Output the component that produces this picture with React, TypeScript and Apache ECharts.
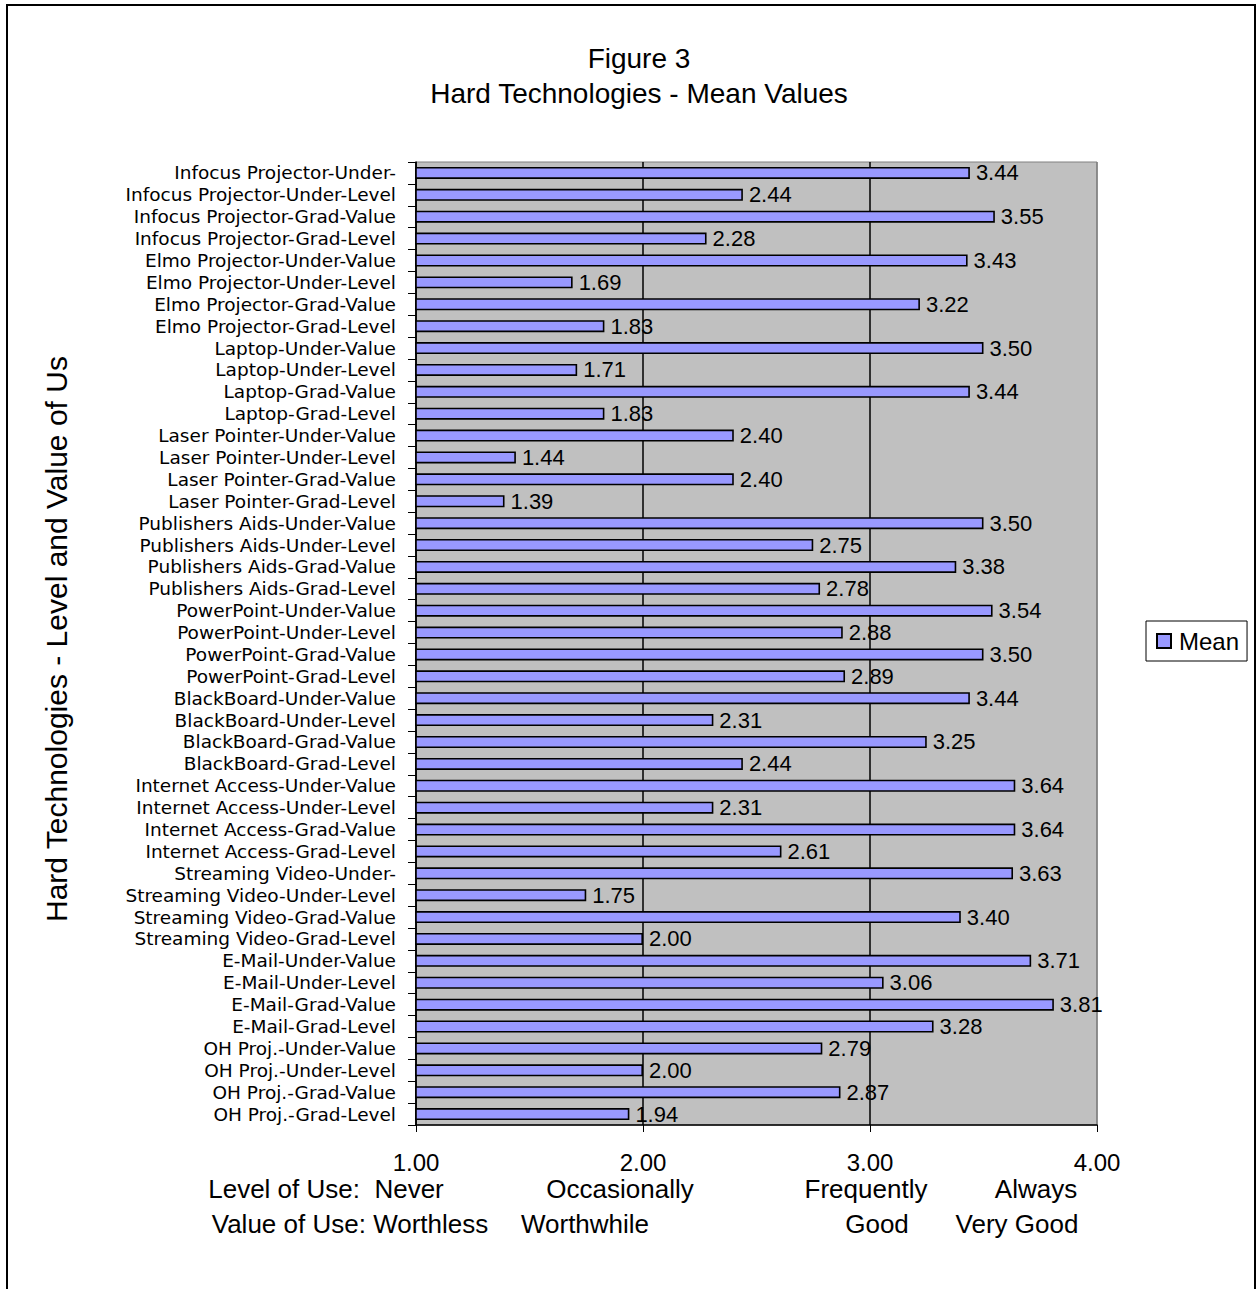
import React, { useEffect, useRef } from "react";
import * as echarts from "echarts";

const categories = [
  "Infocus Projector-Under-",
  "Infocus Projector-Under-Level",
  "Infocus Projector-Grad-Value",
  "Infocus Projector-Grad-Level",
  "Elmo Projector-Under-Value",
  "Elmo Projector-Under-Level",
  "Elmo Projector-Grad-Value",
  "Elmo Projector-Grad-Level",
  "Laptop-Under-Value",
  "Laptop-Under-Level",
  "Laptop-Grad-Value",
  "Laptop-Grad-Level",
  "Laser Pointer-Under-Value",
  "Laser Pointer-Under-Level",
  "Laser Pointer-Grad-Value",
  "Laser Pointer-Grad-Level",
  "Publishers Aids-Under-Value",
  "Publishers Aids-Under-Level",
  "Publishers Aids-Grad-Value",
  "Publishers Aids-Grad-Level",
  "PowerPoint-Under-Value",
  "PowerPoint-Under-Level",
  "PowerPoint-Grad-Value",
  "PowerPoint-Grad-Level",
  "BlackBoard-Under-Value",
  "BlackBoard-Under-Level",
  "BlackBoard-Grad-Value",
  "BlackBoard-Grad-Level",
  "Internet Access-Under-Value",
  "Internet Access-Under-Level",
  "Internet Access-Grad-Value",
  "Internet Access-Grad-Level",
  "Streaming Video-Under-",
  "Streaming Video-Under-Level",
  "Streaming Video-Grad-Value",
  "Streaming Video-Grad-Level",
  "E-Mail-Under-Value",
  "E-Mail-Under-Level",
  "E-Mail-Grad-Value",
  "E-Mail-Grad-Level",
  "OH Proj.-Under-Value",
  "OH Proj.-Under-Level",
  "OH Proj.-Grad-Value",
  "OH Proj.-Grad-Level",
];

const meanValues = [
  3.44, 2.44, 3.55, 2.28,
  3.43, 1.69, 3.22, 1.83,
  3.5, 1.71, 3.44, 1.83,
  2.4, 1.44, 2.4, 1.39,
  3.5, 2.75, 3.38, 2.78,
  3.54, 2.88, 3.5, 2.89,
  3.44, 2.31, 3.25, 2.44,
  3.64, 2.31, 3.64, 2.61,
  3.63, 1.75, 3.4, 2.0,
  3.71, 3.06, 3.81, 3.28,
  2.79, 2.0, 2.87, 1.94,
];

const seriesName = "Mean";
const titleLines = ["Figure 3", "Hard Technologies - Mean Values"];
const yAxisTitle = "Hard Technologies - Level and Value of Use";
const levelLabels = ["Level of Use:  Never", "Occasionally", "Frequently", "Always"];
const valueLabels = ["Value of Use: Worthless", "Worthwhile", "Good", "Very Good"];

const FONT = "'Liberation Sans', Arial, Helvetica, sans-serif";
const CAT_FONT = "'DejaVu Sans', 'Liberation Sans', Arial, sans-serif";
const levelCenters = [326, 620, 866, 1036];
const valueCenters = [350, 585, 877, 1017];

export default function App() {
  const ref = useRef<HTMLDivElement>(null);

  useEffect(() => {
    if (!ref.current) return;
    const chart = echarts.init(ref.current, null, { renderer: "svg" });

    const bottomTexts: any[] = [];
    levelLabels.forEach((t, i) => {
      bottomTexts.push({
        type: "text",
        x: levelCenters[i],
        y: 1189,
        style: {
          text: t,
          font: `26px ${FONT}`,
          fill: "#000",
          textAlign: "center",
          textVerticalAlign: "middle",
        },
      });
    });
    valueLabels.forEach((t, i) => {
      bottomTexts.push({
        type: "text",
        x: valueCenters[i],
        y: 1224,
        style: {
          text: t,
          font: `26px ${FONT}`,
          fill: "#000",
          textAlign: "center",
          textVerticalAlign: "middle",
        },
      });
    });

    chart.setOption({
      animation: false,
      backgroundColor: "#ffffff",
      textStyle: { fontFamily: FONT },
      title: {
        text: titleLines.join("\n"),
        left: 634,
        top: 36,
        textAlign: "center",
        textStyle: {
          fontFamily: FONT,
          fontSize: 28,
          fontWeight: "normal",
          color: "#000",
          lineHeight: 35,
        },
      },
      legend: {
        data: [seriesName],
        left: 1146,
        top: 621,
        orient: "vertical",
        padding: [8, 8, 8, 10],
        itemWidth: 14,
        itemHeight: 14,
        borderColor: "#000",
        borderWidth: 1,
        backgroundColor: "#fff",
        icon: "rect",
        textStyle: { fontFamily: FONT, fontSize: 24, color: "#000", padding: [0, 0, 0, 3] },
      },
      grid: {
        left: 416,
        right: 160,
        top: 162,
        bottom: 164,
        show: true,
        backgroundColor: "#C0C0C0",
        borderColor: "#808080",
        borderWidth: 1,
        containLabel: false,
      },
      xAxis: {
        type: "value",
        min: 1,
        max: 4,
        interval: 1,
        axisLine: { show: true, lineStyle: { color: "#000", width: 1.5 } },
        axisTick: { show: true, length: 7, lineStyle: { color: "#000" } },
        axisLabel: {
          margin: 25,
          fontSize: 24,
          fontFamily: FONT,
          color: "#000",
          formatter: (v: number) => v.toFixed(2),
        },
        splitLine: {
          show: true,
          lineStyle: { color: ["#000", "#000", "#000", "#808080"], width: 1.5 },
        },
      },
      yAxis: {
        type: "category",
        data: categories,
        inverse: true,
        axisLine: { show: true, lineStyle: { color: "#000", width: 1.5 } },
        axisTick: { show: true, length: 8, lineStyle: { color: "#000" } },
        axisLabel: {
          interval: 0,
          margin: 20,
          fontSize: 18.5,
          lineHeight: 21,
          fontFamily: CAT_FONT,
          color: "#000",
        },
        splitLine: { show: false },
      },
      series: [
        {
          name: seriesName,
          type: "bar",
          data: meanValues,
          barWidth: 12,
          itemStyle: { color: "#9999FF", borderColor: "#000", borderWidth: 1.6 },
          label: {
            show: true,
            position: "right",
            distance: 6,
            fontSize: 22,
            fontFamily: FONT,
            color: "#000",
            formatter: (p: any) => Number(p.value).toFixed(2),
          },
        },
      ],
      graphic: [
        {
          type: "rect",
          shape: { x: 7, y: 5, width: 1248, height: 1310 },
          style: { fill: "none", stroke: "#000", lineWidth: 2 },
          silent: true,
          z: -1,
        },
        {
          type: "text",
          x: 56,
          y: 922,
          rotation: Math.PI / 2,
          style: {
            text: yAxisTitle,
            font: `30px ${FONT}`,
            fill: "#000",
            textAlign: "left",
            textVerticalAlign: "middle",
            width: 574,
            overflow: "truncate",
            ellipsis: "",
          },
        },
        ...bottomTexts,
      ],
    });

    return () => chart.dispose();
  }, []);

  return (
    <div
      ref={ref}
      style={{ position: "absolute", left: 0, top: 0, width: 1257, height: 1289, background: "#fff" }}
    />
  );
}
